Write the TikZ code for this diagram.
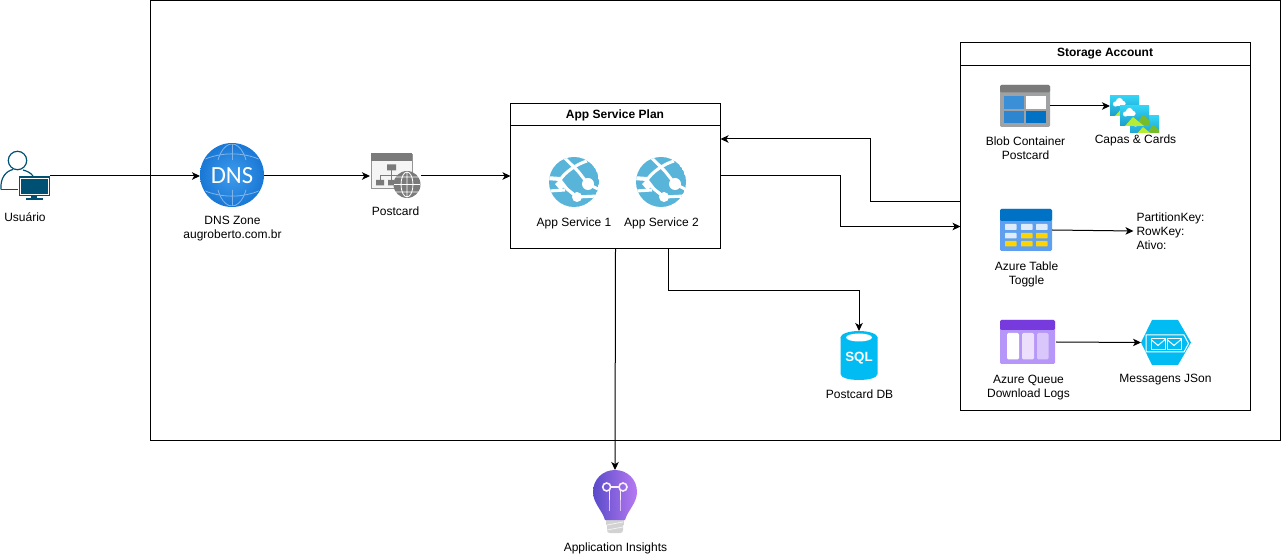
\documentclass[tikz,border=0pt]{standalone}
\usepackage{fontspec}
\setmainfont{Liberation Sans}
\newfontfamily\dnsfont{Carlito}
\usetikzlibrary{arrows.meta,fit,calc}
\definecolor{usercol}{HTML}{005073}
\definecolor{dnsblue}{HTML}{1A78D6}
\definecolor{dnslite}{HTML}{3E9BEC}
\definecolor{appblue}{HTML}{59B4D9}
\definecolor{webgray}{HTML}{7A7A7A}
\definecolor{skyblue}{HTML}{00BCF2}
\definecolor{capa}{HTML}{32D4F5}
\definecolor{capalow}{HTML}{1E9CCB}
\definecolor{hillfront}{HTML}{B4EC36}
\definecolor{hillback}{HTML}{76BC2D}
\definecolor{bulbleft}{HTML}{5A4BC9}
\definecolor{bulbright}{HTML}{B679F2}
\definecolor{blobbody}{HTML}{A0A1A2}
\definecolor{cellA}{HTML}{3A8FD6}
\definecolor{cellB}{HTML}{2E86D0}
\definecolor{cellC}{HTML}{0072C6}
\definecolor{tabbody}{HTML}{5EA0EF}
\definecolor{tabcell}{HTML}{DDEBFB}
\definecolor{tabyellow}{HTML}{FFD400}
\definecolor{qtop}{HTML}{773ADC}
\definecolor{qbody}{HTML}{B796F9}
\definecolor{qmid}{HTML}{EBDFFC}
\definecolor{qright}{HTML}{D9C6FA}
\tikzset{
  x=0.75pt,y=-0.75pt,
  every node/.style={font=\fontsize{9pt}{10.5pt}\selectfont,inner sep=0pt,outer sep=0pt},
  conn/.style={draw=black,-{Stealth[length=6pt,width=5.6pt,inset=1.6pt]}},
  frame/.style={draw=black,line width=0.75pt},
  hold/.style={inner sep=0pt},
  lbl/.style={align=center},
  ttl/.style={font=\fontsize{9pt}{10.5pt}\selectfont\bfseries},
}
\newcommand{\appicon}[1]{%
\begin{scope}[shift={(#1)}]
  \begin{scope}
    \clip (0,0) circle (25);
    \fill[appblue] (0,0) circle (25);
    \draw[white,line width=2.3pt] (-10,-25) .. controls (-5,-19) and (2,-14) .. (7,-7) -- (14,2) -- (28,9);
    \draw[white,line width=2.3pt] (13,-21) .. controls (3,-18) and (-9,-10) .. (-14,-2) -- (-7,7) -- (3,15) -- (24,14);
    \draw[white,line width=3pt] (-28,-4) -- (-14,-3);
    \draw[white,line width=2.3pt] (-25,9) -- (-9,8);
    \fill[white] (14,2) circle (6);
    \fill[white] (3,15) circle (5);
    \fill[white] (-14,-3) -- (-8,4) -- (-14,8) -- (-19,2) -- cycle;
  \end{scope}
\end{scope}}
\newcommand{\capaicon}[2]{%
\begin{scope}[shift={(#1)}]
  \clip (0,0) rectangle (29,#2);
  \shade[top color=capa,bottom color=capalow] (0,0) rectangle (29,20);
  \fill[white] (5.5,8) circle (2.6);
  \fill[white] (9.5,5.5) circle (3.6);
  \fill[white] (13,7.5) circle (2.6);
  \fill[white] (5.5,7.5) rectangle (13,10.4);
  \fill[hillback] (15,20) -- (23,9) -- (29,14) -- (29,20) -- cycle;
  \fill[hillfront] (5,20) -- (13,11) -- (24,20) -- cycle;
\end{scope}}
\begin{document}
\begin{tikzpicture}[line width=0.75pt]
\useasboundingbox (0,0) rectangle (1281,555);
% containers
\node[frame,fit={(150.5,0.5)(1280.5,440.5)}] (outer) {};
\node[frame,fit={(510.5,103.5)(720.5,248.5)}] (plan) {};
\node[frame,fit={(510.5,103.5)(720.5,125.5)}] (plantitle) {};
\node[ttl] (plantext) at (615,115) {App Service Plan};
\node[frame,fit={(960.5,42.5)(1250.5,65.5)}] (storagetitle) {};
\node[frame,fit={(960.5,42.5)(1250.5,410.5)}] (storage) {};
\node[ttl] (storagetext) at (1105,54) {Storage Account};

% icon holders
\node[hold,fit={(0,151)(50,201)}] (user) {};
\node[hold,fit={(200,144)(264,208)}] (dns) {};
\node[hold,fit={(370,154)(421,198)}] (web) {};
\node[hold,fit={(840,331)(878,380)}] (sql) {};
\node[hold,fit={(593,470)(637,533)}] (bulb) {};
\node[hold,fit={(1000,85)(1050,127)}] (blob) {};
\node[hold,fit={(1110,96)(1159,116)}] (capas) {};
\node[hold,fit={(1000,209)(1052,251)}] (table) {};
\node[hold,fit={(1000,320)(1055,364)}] (queue) {};
\node[hold,fit={(1141,320)(1191,365)}] (hex) {};

% user icon
\draw[usercol,line width=0.9pt,fill=white] (17.5,160.5) circle (9.2);
\draw[usercol,line width=0.9pt] (1,189.5) .. controls (0,178) and (6,171) .. (13,169.5);
\draw[usercol,line width=0.9pt] (23,170) .. controls (27,171) and (31,173) .. (33,176);
\draw[usercol,line width=0.9pt] (1,189.5) -- (18,189.5);
\fill[usercol] (18.5,176.5) rectangle (50,196) ;
\draw[white,line width=0.5pt] (20.5,178.5) rectangle (48,194);
\fill[usercol] (31,196) rectangle (37,198);
\fill[usercol] (26,198) rectangle (43,200);

% dns icon
\shade[inner color=dnslite,outer color=dnsblue] (232,175) circle (32);
\begin{scope}
\clip (232,175) circle (31);
\clip (199,142) rectangle (265,160) (199,190) rectangle (265,208);
\draw[white!45!dnsblue,line width=0.6pt] (232,175) ellipse (16 and 31);
\draw[white!45!dnsblue,line width=0.6pt] (232,143) -- (232,207);
\draw[white!45!dnsblue,line width=0.6pt] (204,159.5) .. controls (222,152) and (242,152) .. (260,159.5);
\draw[white!45!dnsblue,line width=0.6pt] (204,190.5) .. controls (222,198) and (242,198) .. (260,190.5);
\end{scope}
\node[text=white,font=\dnsfont\fontsize{18.5pt}{19pt}\selectfont] (dnstxt) at (232,175.5) {DNS};

% web icon
\draw[webgray!80,fill=gray!8,line width=0.7pt] (371,154) rectangle (412,188);
\fill[webgray] (370.5,153) rectangle (412,161.5);
\fill[webgray] (387,164.5) rectangle (396,170.5) (376,180) rectangle (384,185.5) (388,180) rectangle (394,185.5);
\draw[webgray,line width=0.6pt] (391,170) -- (391,180) (380,180) -- (380,175) -- (398,175) ;
\fill[webgray] (407,184.5) circle (13.5);
\draw[white,line width=0.6pt] (407,184.5) ellipse (6 and 12.5) (407,172) -- (407,197) (394,184.5) -- (420,184.5)
   (396,177) -- (418,177) (396,192) -- (418,192);

% app services
\appicon{574,182}
\appicon{661,182}

% sql
\fill[skyblue] (840.5,337.5) .. controls (841,333) and (877,333) .. (877.5,337.5) -- (877.5,374) .. controls (877,382) and (841,382) .. (840.5,374) -- cycle;
\fill[skyblue] (859,337.5) ellipse (18.5 and 6.5);
\fill[white] (859,337.5) ellipse (13 and 4);
\node[text=white,font=\fontsize{10pt}{10pt}\selectfont\bfseries] (sqltxt) at (859,358) {SQL};

% bulb
\fill[gray!35] (606,520) rectangle (624,525) ;
\fill[gray!35,rounded corners=2pt] (607,522) rectangle (623,533);
\draw[white!90!gray,line width=0.6pt] (607,525) -- (623,522) (607,530) -- (623,527);
\shade[left color=bulbleft,right color=bulbright]
  (605,520) .. controls (602,510) and (593,503) .. (593,492)
  .. controls (593,479) and (603,470) .. (615,470)
  .. controls (627,470) and (637,479) .. (637,492)
  .. controls (637,503) and (628,510) .. (625,520) -- cycle;
\draw[white!90!bulbright,line width=1.2pt] (606.7,487) circle (4) (623,487) circle (4) (610.7,487) -- (619,487);
\draw[white!90!bulbright,line width=1.2pt] (609.5,490) -- (609.5,500) (620.5,490) -- (620.5,500);
\draw[white!50!bulbright,line width=1.2pt] (609.5,500) -- (609.5,511) (620.5,500) -- (620.5,511);

% blob
\fill[blobbody,rounded corners=1pt] (1000,85) rectangle (1050,127);
\fill[webgray,rounded corners=1pt] (1000,85) rectangle (1050,92.5);
\fill[cellA] (1004,96) rectangle (1024,109);
\fill[white] (1026,96) rectangle (1046,109);
\fill[cellB] (1004,111) rectangle (1024,123);
\fill[cellC] (1026,111) rectangle (1046,123);

% capas
\begin{scope}\capaicon{1110,96}{20}\end{scope}
\begin{scope}\capaicon{1130,116}{17}\end{scope}
\begin{scope}\capaicon{1120,106}{20}\end{scope}

% table
\fill[tabbody,rounded corners=1pt] (1000,209) rectangle (1052,251);
\fill[cellC,rounded corners=1pt] (1000,209) rectangle (1052,221);
\foreach \cx in {1005,1021,1036}{\fill[tabcell,rounded corners=0.5pt] (\cx,224) rectangle ++(11.5,6);}
\fill[tabcell,rounded corners=0.5pt] (1005,233) rectangle ++(11.5,5.5);
\foreach \cx in {1021,1036}{\fill[tabyellow,rounded corners=0.5pt] (\cx,233) rectangle ++(11.5,5.5);}
\foreach \cx in {1005,1021,1036}{\fill[tabyellow,rounded corners=0.5pt] (\cx,241) rectangle ++(11.5,5.5);}

% queue
\fill[qbody,rounded corners=1pt] (1000,320) rectangle (1055,364);
\fill[qtop,rounded corners=1pt] (1000,320) rectangle (1055,330);
\fill[white,rounded corners=1pt] (1007,333) rectangle (1019,359.5);
\fill[qmid,rounded corners=1pt] (1022,333) rectangle (1034,359.5);
\fill[qright,rounded corners=1pt] (1037,333) rectangle (1048.5,359.5);

% hex
\fill[skyblue] (1141,342.5) -- (1152,320) -- (1178,320) -- (1191,342.5) -- (1178,365) -- (1152,365) -- cycle;
\draw[white,line width=0.75pt] (1146,335) -- (1184,335) -- (1188.5,343.5) -- (1184,352) -- (1146,352) -- cycle;
\foreach \ex in {1151,1167}{
  \draw[white,line width=0.75pt,fill=skyblue] (\ex,339) rectangle ++(14,11);
  \draw[white,line width=0.75pt] (\ex,339.5) -- ++(7,6) -- ++(7,-6);
}

% labels
\node[lbl] (userlbl) at (25,217) {Usuário};
\node[lbl] (dnslbl) at (232.5,228.5) {DNS Zone\\augroberto.com.br};
\node[lbl] (weblbl) at (395.5,211) {Postcard};
\node[lbl] (app1lbl) at (574,223) {App Service 1};
\node[lbl] (app2lbl) at (661.5,223) {App Service 2};
\node[lbl] (bloblbl) at (1025.5,148) {Blob Container\\Postcard};
\node[lbl] (capaslbl) at (1135.5,140) {Capas \& Cards};
\node[lbl] (tablelbl) at (1026.5,274) {Azure Table\\Toggle};
\node[lbl] (queuelbl) at (1028.5,387.5) {Azure Queue\\Download Logs};
\node[lbl] (hexlbl) at (1165.5,380) {Messagens JSon};
\node[lbl] (sqllbl) at (859.5,394) {Postcard DB};
\node[lbl] (insightslbl) at (615.5,548) {Application Insights};
\node[align=left,anchor=west,inner xsep=2.25pt] (keys) at (1133.5,231) {PartitionKey:\\RowKey:\\Ativo:};

% connectors
\draw[conn] (user.east) -- (dns.west);
\draw[conn] (dns.east) -- (web.west);
\draw[conn] (web.east) -- (plan.west);
\draw[conn] (plan.east) -- ++(120,0) |- (storage.west);
\draw[conn] ($(storage.west)+(0,-25)$) -- ++(-90,0) |- ($(plan.east)+(0,-37)$);
\draw[conn] ($(plan.south)+(53,0)$) -- ++(0,42) -| (sql.north);
\draw[conn] (plan.south) -- (bulb.north);
\draw[conn] (blob.east) -- (capas.west);
\draw[conn] (table.east) -- (keys.west);
\draw[conn] ($(queue.east)+(1,0)$) -- (hex.west);
\end{tikzpicture}
\end{document}
